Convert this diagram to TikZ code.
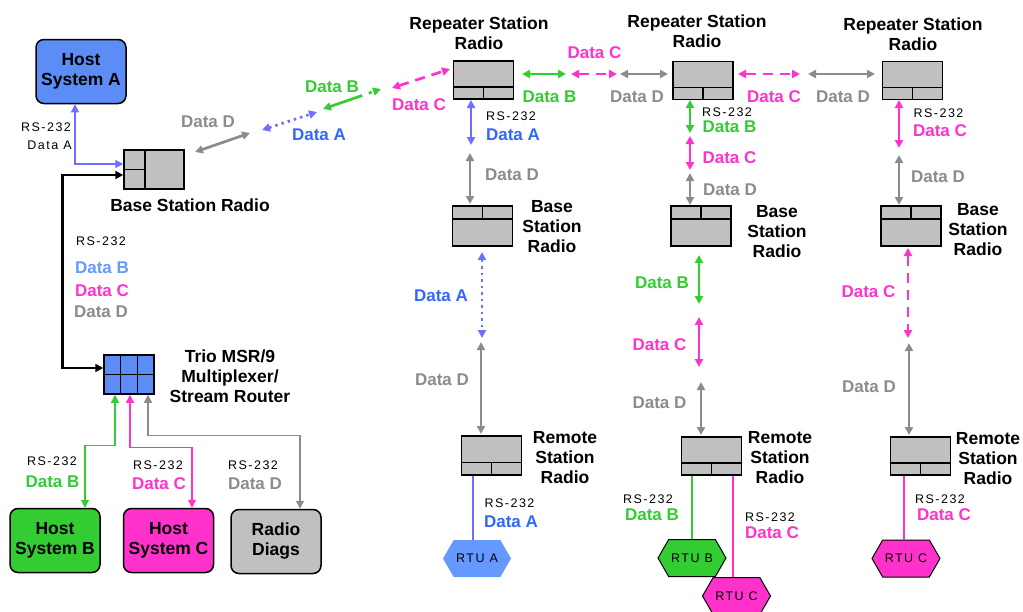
\documentclass[tikz,border=0pt]{standalone}
\usepackage{fontspec}
\setmainfont{Liberation Sans}
\newfontfamily\smallfont[LetterSpace=12]{Liberation Sans}
\usetikzlibrary{arrows.meta,calc,shapes.symbols,positioning}
\definecolor{hostblue}{RGB}{92,140,245}
\definecolor{datablue}{RGB}{51,102,255}
\definecolor{lineblue}{RGB}{110,110,255}
\definecolor{lightblue}{RGB}{102,153,255}
\definecolor{datagreen}{RGB}{51,204,51}
\definecolor{datamag}{RGB}{255,51,204}
\definecolor{datagray}{RGB}{140,140,140}
\definecolor{boxgray}{RGB}{192,192,192}
\tikzset{
    %Define standard arrow tip
    >={Triangle[length=8pt,width=8pt]},
    %Define style for boxes
    host/.style={
           rectangle,
           rounded corners=8pt,
           draw=black, line width=1.5pt,
           minimum width=90pt,
           minimum height=64pt,
           align=center,
           font=\bfseries\fontsize{17.5}{20}\selectfont},
    radio/.style={
           rectangle,
           draw=black, line width=1.5pt,
           fill=boxgray,
           minimum width=60pt,
           minimum height=38pt,
           inner sep=0pt},
    radiobot/.style={
           radio,
           path picture={
             \draw[line width=1.5pt] ($(path picture bounding box.south west)!0.32!(path picture bounding box.north west)$)
                  -- ($(path picture bounding box.south east)!0.32!(path picture bounding box.north east)$);
             \draw[line width=1.5pt] (path picture bounding box.south)
                  -- ($(path picture bounding box.south)!0.32!(path picture bounding box.north)$);}},
    radiotop/.style={
           radio,
           path picture={
             \draw[line width=1.5pt] ($(path picture bounding box.north west)!0.33!(path picture bounding box.south west)$)
                  -- ($(path picture bounding box.north east)!0.33!(path picture bounding box.south east)$);
             \draw[line width=1.5pt] (path picture bounding box.north)
                  -- ($(path picture bounding box.north)!0.33!(path picture bounding box.south)$);}},
    rtu/.style={
           signal, signal to=east and west,
           signal pointer angle=120,
           minimum width=68pt,
           minimum height=37pt,
           inner sep=0pt,
           font=\smallfont\fontsize{12.5}{14}\selectfont},
    title/.style={align=center, font=\bfseries\fontsize{17.5}{20}\selectfont},
    rs/.style={font=\smallfont\fontsize{12.5}{14}\selectfont},
    dlabel/.style={font=\bfseries\fontsize{17}{19}\selectfont},
    % Define arrow style
    link/.style={<->, line width=2.7pt},
    wire/.style={line width=1.2pt}
}
\begin{document}
\begin{tikzpicture}[x=1pt,y=-1pt]
\useasboundingbox (0,0) rectangle (1023,611);
% hosts and left side
\node[host, fill=hostblue] (hostA) at (81,71.5) {Host\\System A};
\node[host, fill=datagreen] (hostB) at (55,540.5) {Host\\System B};
\node[host, fill=datamag] (hostC) at (168.5,540.5) {Host\\System C};
\node[host, fill=boxgray] (diags) at (276,541.5) {Radio\\Diags};
\node[radio, minimum height=39pt, path picture={
    \draw[line width=1.5pt] ($(path picture bounding box.north west)!0.35!(path picture bounding box.north east)$)
         -- ($(path picture bounding box.south west)!0.35!(path picture bounding box.south east)$);
    \draw[line width=1.5pt] (path picture bounding box.west)
         -- ($(path picture bounding box.west)!0.35!(path picture bounding box.east)$);}] (baseL) at (154,169.5) {};
\node[title] (baseLt) at (190,205) {Base Station Radio};
\node[rectangle, draw=black, line width=1.5pt, fill=hostblue, minimum width=50pt, minimum height=39pt, path picture={
    \foreach \f in {0.333,0.667}
      \draw[line width=1.5pt] ($(path picture bounding box.north west)!\f!(path picture bounding box.north east)$)
           -- ($(path picture bounding box.south west)!\f!(path picture bounding box.south east)$);
    \draw[line width=1.5pt] (path picture bounding box.west) -- (path picture bounding box.east);}] (mux) at (129,374.5) {};
\node[title] (muxt) at (230,376) {Trio MSR/9\\Multiplexer/\\Stream Router};

% radios
\node[radiobot] (rep1) at (483.5,80) {};
\node[radiobot] (rep2) at (703,80.5) {};
\node[radiobot] (rep3) at (912.5,80.5) {};
\node[title] (rep1t) at (479,33) {Repeater Station\\Radio};
\node[title] (rep2t) at (697,31) {Repeater Station\\Radio};
\node[title] (rep3t) at (913,34) {Repeater Station\\Radio};
\node[radiotop, minimum height=40pt] (base1) at (482.5,226) {};
\node[radiotop, minimum height=40pt] (base2) at (701,226) {};
\node[radiotop, minimum height=40pt] (base3) at (911,226) {};
\node[title] (base1t) at (552,226.5) {Base\\Station\\Radio};
\node[title] (base2t) at (777,231.5) {Base\\Station\\Radio};
\node[title] (base3t) at (978,230) {Base\\Station\\Radio};
\node[radiobot, minimum height=39pt] (rem1) at (491.5,455.5) {};
\node[radiobot] (rem2) at (711.5,456) {};
\node[radiobot] (rem3) at (920.5,456) {};
\node[title] (rem1t) at (565,457.5) {Remote\\Station\\Radio};
\node[title] (rem2t) at (780,457.5) {Remote\\Station\\Radio};
\node[title] (rem3t) at (988,458.5) {Remote\\Station\\Radio};
\node[rtu, fill=lightblue] (rtuA) at (477,558.5) {RTU A};
\node[rtu, fill=datagreen, draw=black, line width=1pt] (rtuB) at (692,558) {RTU B};
\node[rtu, fill=datamag, draw=black, line width=1pt] (rtuCa) at (736.5,596) {RTU C};
\node[rtu, fill=datamag, draw=black, line width=1pt] (rtuCb) at (906,558.5) {RTU C};

% wires on the left
\draw[wire, lineblue, <->] ([xshift=-6pt]hostA.south) |- ([yshift=5.5pt]baseL.west);
\draw[<->, line width=2.8pt] ([yshift=6.5pt]mux.west) -- ++(-41,0) |- ([yshift=-5.5pt]baseL.west);
\draw[wire, datagreen, <->] ([xshift=-14pt]mux.south) -- ++(0,51) -| ([xshift=30pt]hostB.north);
\draw[wire, datamag, <->] ([xshift=1pt]mux.south) -- ++(0,53) -| ([xshift=23.5pt]hostC.north);
\draw[wire, datagray, <->] ([xshift=19pt]mux.south) -- ++(0,41) -| ([xshift=24pt]diags.north);
% wires to the RTUs
\draw[wire, lineblue] ([xshift=-18.5pt]rem1.south) -- ([xshift=-4pt]rtuA.north);
\draw[wire, datagreen] ([xshift=-19.5pt]rem2.south) -- (rtuB.north);
\draw[wire, datamag] ([xshift=21.5pt]rem2.south) -- ([xshift=-3.5pt]rtuCa.north);
\draw[wire, datamag] ([xshift=-16.5pt]rem3.south) -- ([xshift=-2pt]rtuCb.north);

% radio links
\coordinate (d1a) at (195,152); \coordinate (d1b) at (250,133);
\coordinate (a1a) at (262,130); \coordinate (a1b) at (317,112);
\coordinate (b1a) at (323,109); \coordinate (b1b) at (381,89);
\coordinate (c1a) at (392,88);  \coordinate (c1b) at (450,69);
\coordinate (b2a) at (522,74);  \coordinate (b2b) at (566,74);
\coordinate (c2a) at (571,74);  \coordinate (c2b) at (617,74);
\coordinate (d2a) at (620,74);  \coordinate (d2b) at (668,74);
\coordinate (c3a) at (738,74);  \coordinate (c3b) at (800,74);
\coordinate (d3a) at (808,74);  \coordinate (d3b) at (875,74);
\coordinate (a2a) at (471,100); \coordinate (a2b) at (471,145);
\coordinate (d4a) at (470,153); \coordinate (d4b) at (470,204);
\coordinate (a3a) at (482,252); \coordinate (a3b) at (482,338);
\coordinate (d5a) at (481,342); \coordinate (d5b) at (481,434);
\coordinate (b3a) at (690,100); \coordinate (b3b) at (690,133);
\coordinate (c4a) at (690,136); \coordinate (c4b) at (690,170);
\coordinate (d6a) at (690,173); \coordinate (d6b) at (690,205);
\coordinate (b4a) at (699,255); \coordinate (b4b) at (699,304);
\coordinate (c5a) at (699,317); \coordinate (c5b) at (699,367);
\coordinate (d7a) at (701,382); \coordinate (d7b) at (701,435);
\coordinate (c6a) at (899,100); \coordinate (c6b) at (899,148);
\coordinate (d8a) at (899,155); \coordinate (d8b) at (899,205);
\coordinate (c7a) at (908,248); \coordinate (c7b) at (908,338);
\coordinate (d9a) at (909,343); \coordinate (d9b) at (909,435);

\draw[link, datagray] (d1a) -- (d1b);
\draw[link, lineblue, dash pattern=on 2.5pt off 4pt] (a1a) -- (a1b);
\draw[link, datagreen, dash pattern=on 34pt off 7pt on 3pt off 7pt] (b1a) -- (b1b);
\draw[link, datamag, dash pattern=on 10pt off 7pt] (c1a) -- (c1b);
\draw[link, datagreen] (b2a) -- (b2b);
\draw[link, datamag, dash pattern=on 10pt off 7pt] (c2a) -- (c2b);
\draw[link, datagray] (d2a) -- (d2b);
\draw[link, datamag, dash pattern=on 10pt off 7pt] (c3a) -- (c3b);
\draw[link, datagray] (d3a) -- (d3b);
\draw[link, lineblue] (a2a) -- (a2b);
\draw[link, datagray] (d4a) -- (d4b);
\draw[link, lineblue, dash pattern=on 2.5pt off 4pt] (a3a) -- (a3b);
\draw[link, datagray] (d5a) -- (d5b);
\draw[link, datagreen] (b3a) -- (b3b);
\draw[link, datamag] (c4a) -- (c4b);
\draw[link, datagray] (d6a) -- (d6b);
\draw[link, datagreen] (b4a) -- (b4b);
\draw[link, datamag] (c5a) -- (c5b);
\draw[link, datagray] (d7a) -- (d7b);
\draw[link, datamag] (c6a) -- (c6b);
\draw[link, datagray] (d8a) -- (d8b);
\draw[link, datamag, dash pattern=on 10pt off 7pt] (c7a) -- (c7b);
\draw[link, datagray] (d9a) -- (d9b);

% labels
\node[rs] (lA1) at (46,127) {RS-232};
\node[rs] (lA2) at (49.5,145) {Data A};
\node[rs] (lm1) at (101,241) {RS-232};
\node[dlabel, lightblue] (lm2) at (102,268) {Data B};
\node[dlabel, datamag] (lm3) at (102,291) {Data C};
\node[dlabel, datagray] (lm4) at (101,312) {Data D};
\node[rs] (lB1) at (52,461) {RS-232};
\node[dlabel, datagreen] (lB2) at (52.5,482) {Data B};
\node[rs] (lC1) at (158,465) {RS-232};
\node[dlabel, datamag] (lC2) at (159,484) {Data C};
\node[rs] (lD1) at (253,465) {RS-232};
\node[dlabel, datagray] (lD2) at (255,484) {Data D};
\node[dlabel, datagray] (t1) at (208,122) {Data D};
\node[dlabel, datablue] (t2) at (319,135) {Data A};
\node[dlabel, datagreen] (t3) at (332,87) {Data B};
\node[dlabel, datamag] (t4) at (419,105) {Data C};
\node[dlabel, datagreen] (t5) at (549.5,97) {Data B};
\node[dlabel, datamag] (t6) at (594.5,53) {Data C};
\node[dlabel, datagray] (t7) at (637,97) {Data D};
\node[dlabel, datamag] (t8) at (774,97) {Data C};
\node[dlabel, datagray] (t9) at (843,97) {Data D};
% column 1
\node[rs] (k1) at (511,116) {RS-232};
\node[dlabel, datablue] (k2) at (513,135) {Data A};
\node[dlabel, datagray] (k3) at (512,175) {Data D};
\node[dlabel, datablue] (k4) at (441,296) {Data A};
\node[dlabel, datagray] (k5) at (442,380) {Data D};
\node[rs] (k6) at (509.5,503) {RS-232};
\node[dlabel, datablue] (k7) at (511,522) {Data A};
% column 2
\node[rs] (m1) at (727,112) {RS-232};
\node[dlabel, datagreen] (m2) at (729.5,127) {Data B};
\node[dlabel, datamag] (m3) at (729.5,158) {Data C};
\node[dlabel, datagray] (m4) at (730,190) {Data D};
\node[dlabel, datagreen] (m5) at (662,283) {Data B};
\node[dlabel, datamag] (m6) at (659.5,345) {Data C};
\node[dlabel, datagray] (m7) at (659.5,403) {Data D};
\node[rs] (m8) at (648,499) {RS-232};
\node[dlabel, datagreen] (m9) at (652,515) {Data B};
\node[rs] (m10) at (770,517) {RS-232};
\node[dlabel, datamag] (m11) at (772,533) {Data C};
% column 3
\node[rs] (n1) at (938.5,113) {RS-232};
\node[dlabel, datamag] (n2) at (940,131) {Data C};
\node[dlabel, datagray] (n3) at (938,177) {Data D};
\node[dlabel, datamag] (n4) at (868.5,292) {Data C};
\node[dlabel, datagray] (n5) at (869,387) {Data D};
\node[rs] (n6) at (940,499) {RS-232};
\node[dlabel, datamag] (n7) at (944,515) {Data C};
\end{tikzpicture}
\end{document}
